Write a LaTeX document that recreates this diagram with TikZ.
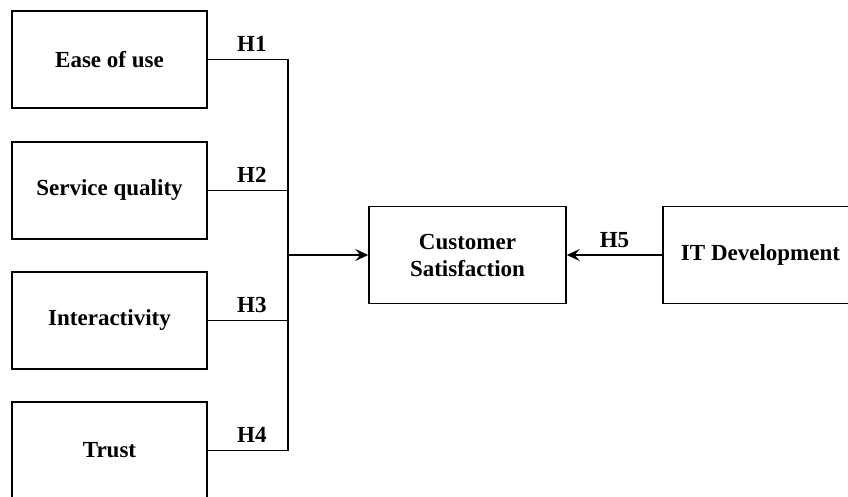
\documentclass[tikz,border=0pt]{standalone}
\usepackage{fontspec}
\setmainfont{Liberation Serif}
\usetikzlibrary{arrows.meta}

\begin{document}
\begin{tikzpicture}[x=1pt,y=-1pt,line width=1.5pt,
  every node/.style={font=\fontsize{23}{27}\selectfont\bfseries},
  factor/.style={draw,rectangle,minimum width=195pt,minimum height=97pt,inner sep=0pt,align=center},
  hyp/.style={above=7pt,inner sep=0pt,xshift=4pt},
  link/.style={-{Stealth[length=13pt,width=12pt,inset=5pt]}}]
  \useasboundingbox (0,0) rectangle (848,497);
  % independent variables
  \node [factor] (ease) at (109.5,59.5) {Ease of use};
  \node [factor] (serv) at (109.5,190.5) {Service quality};
  \node [factor] (inter) at (109.5,320.5) {Interactivity};
  \node [factor] (trust) at (109.5,450.5) {Trust};
  % dependent variable and moderator
  \node [factor,minimum width=197pt] (cs) at (467.5,255) {Customer\\Satisfaction};
  \node [factor] (itd) at (760.5,255) {IT Development};
  % collecting line
  \coordinate (j1) at (288,59.5);
  \coordinate (j2) at (288,190.5);
  \coordinate (j3) at (288,320.5);
  \coordinate (j4) at (288,450.5);
  \coordinate (jm) at (288,255);
  \draw (ease.east) -- node [hyp] {H1} (j1);
  \draw (serv.east) -- node [hyp] {H2} (j2);
  \draw (inter.east) -- node [hyp] {H3} (j3);
  \draw (trust.east) -- node [hyp] {H4} (j4);
  \draw (j1) -- (j4);
  \draw [link] (jm) -- (cs.west);
  \draw [link] (itd.west) -- node [hyp,xshift=-4pt] {H5} (cs.east);
\end{tikzpicture}
\end{document}
